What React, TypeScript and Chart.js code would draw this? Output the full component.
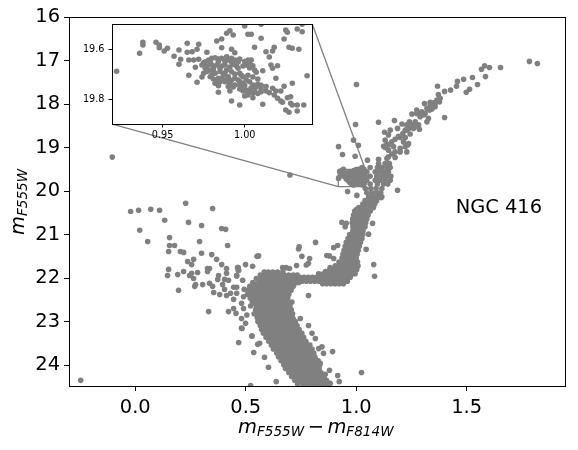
import React, { useEffect, useRef } from "react";
import { Chart, registerables } from "chart.js";

Chart.register(...registerables);

type P = [number, number];
type Row = [number, number[]];

// [colour, magnitude] values
const insetStars: P[] = [
  [.922,19.689],[.936,19.617],[.938,19.573],[.938,19.584],[.946,19.573],[.948,19.584],[.948,19.595],[.953,19.597],[.951,19.608],[.957,19.629],
  [.960,19.604],[.965,19.577],[.965,19.613],[.968,19.611],[.971,19.601],[.972,19.581],[.961,19.641],[.960,19.661],[.966,19.644],[.969,19.644],
  [.972,19.641],[.977,19.613],[.966,19.705],[.970,19.673],[.971,19.733],[.974,19.712],[.983,19.568],[.986,19.560],[.986,19.595],[.989,19.537],
  [.991,19.527],[.993,19.544],[.992,19.601],[.994,19.615],[1.000,19.508],[1.002,19.541],[1.004,19.541],[1.010,19.557],[1.006,19.593],[1.010,19.501],
  [1.013,19.611],[1.017,19.608],[1.018,19.593],[1.015,19.632],[1.024,19.560],[1.025,19.524],[1.026,19.533],[1.032,19.520],[1.035,19.531],[1.035,19.501],
  [1.027,19.593],[1.029,19.597],[1.033,19.601],[1.016,19.664],[1.020,19.667],[1.017,19.677],[1.011,19.687],[1.019,19.717],[1.038,19.707],[1.029,19.737],
  [1.024,19.749],[1.017,19.757],[1.019,19.768],[1.022,19.768],[1.018,19.784],[1.020,19.797],[1.022,19.808],[1.023,19.813],[1.028,19.791],[1.026,19.795],
  [1.028,19.817],[1.029,19.824],[1.032,19.824],[1.036,19.824],[1.025,19.844],[1.027,19.853],[1.032,19.848],[1.011,19.821],[.997,19.824],[.992,19.808],
  [.984,19.773],[.991,19.768],[1.013,19.768],[1.010,19.760],[1.010,19.771],
  [.974,19.664],[.976,19.651],[.978,19.644],[.980,19.637],[.982,19.635],[.984,19.640],[.986,19.637],[.989,19.631],[.990,19.644],[.992,19.637],
  [.994,19.644],[.997,19.640],[1.002,19.644],[1.004,19.644],[1.005,19.667],[1.001,19.664],[1.006,19.684],[1.007,19.693],[.976,19.677],[.978,19.684],
  [.980,19.664],[.983,19.664],[.985,19.677],[.988,19.664],[.989,19.684],[.993,19.661],[.996,19.677],[.997,19.697],[.975,19.697],[.979,19.711],
  [.982,19.697],[.984,19.717],[.987,19.704],[.990,19.711],[.992,19.691],[.999,19.711],[1.001,19.724],[.982,19.737],[.985,19.731],[.988,19.731],
  [.991,19.737],[.994,19.744],[.997,19.744],[.999,19.737],[1.003,19.731],[1.005,19.744],[1.007,19.751],[1.001,19.764],[1.003,19.764],[1.005,19.777],
  [1.002,19.784],[1.000,19.788],[1.005,19.795],[.994,19.717],[.996,19.724],[.981,19.720],[.984,19.747],[.999,19.768],
  [.975,19.655],[.979,19.652],[.984,19.650],[.988,19.650],[.992,19.652],[.996,19.652],[1.000,19.650],[1.003,19.655],[.977,19.668],[.981,19.675],
  [.986,19.668],[.991,19.672],[.995,19.668],[.999,19.668],[1.003,19.676],[.977,19.690],[.981,19.688],[.985,19.690],[.988,19.695],[.994,19.700],
  [.998,19.705],[1.002,19.705],[1.005,19.712],[1.008,19.720],[.980,19.702],[.983,19.727],[.986,19.720],[.989,19.722],[.992,19.725],[.997,19.730],
  [1.000,19.745],[1.004,19.755],[1.008,19.740],[1.010,19.745],[.993,19.752],[.998,19.756],[1.006,19.765],[1.008,19.778],[1.002,19.775],[.997,19.760],
  [.990,19.750],[1.013,19.750],[1.015,19.775],
];

const upperGiants: P[] = [
  [1.784,17.02],[1.820,17.07],[1.653,17.16],[1.603,17.16],[1.581,17.12],[1.567,17.20],[1.585,17.37],[1.549,17.55],[1.526,17.39],[1.486,17.43],
  [1.458,17.48],[1.454,17.59],[1.513,17.66],[1.498,17.73],[1.427,17.68],[1.400,17.71],[1.368,17.59],[1.372,17.78],[1.001,17.55],[1.380,17.87],
  [1.377,17.95],[1.365,17.91],[1.350,17.97],[1.335,17.96],[1.309,17.99],[1.357,18.06],[1.342,18.12],[1.320,18.10],[1.332,18.14],[1.274,18.14],
  [1.289,18.22],[1.252,18.23],[1.305,18.25],[1.327,18.33],[1.320,18.41],[1.400,18.31],[1.173,18.38],[1.101,18.42],[.997,18.47],[1.241,18.41],
  [1.267,18.41],[1.229,18.48],[1.207,18.46],[1.187,18.56],[1.282,18.48],[1.286,18.58],[1.259,18.56],[1.237,18.56],[1.222,18.60],[1.244,18.69],
  [1.154,18.60],[1.128,18.65],[1.146,18.71],[1.199,18.77],[1.131,18.83],[1.214,18.87],[1.237,18.91],[1.222,18.98],[.988,18.83],[1.010,18.95],
  [.920,18.98],[.938,19.16],[.995,19.20],[1.124,18.97],[1.146,18.94],[1.169,18.98],[1.146,19.06],[1.199,19.10],[1.229,19.10],[1.176,19.23],
  [1.161,19.15],[1.139,19.25],[1.101,19.27],[1.051,19.29],[1.335,18.02],[1.357,17.99],[1.297,18.18],[1.312,18.22],[1.274,18.22],[1.289,18.29],
  [1.252,18.48],[1.267,18.51],[1.229,18.60],[1.211,18.68],[1.191,18.74],[1.176,18.81],[1.161,18.87],[1.139,18.92],[1.131,19.00],[1.222,18.77],
  [1.232,18.94],[1.199,19.02],[1.176,19.10],[1.146,19.21],[1.150,19.37],
];

const clumpRows: Row[] = [
  [19.37,[1.101,1.131,1.146]],
  [19.46,[1.026,1.063,1.096,1.116,1.139,1.154]],
  [19.56,[1.048,1.086,1.105,1.127,1.146]],
  [19.66,[1.041,1.063,1.093,1.116,1.136,1.157]],
  [19.75,[1.048,1.086,1.108,1.131,1.154]],
  [19.84,[1.033,1.063,1.096,1.124,1.143]],
  [19.94,[1.041,1.066,1.090,1.116]],
  [20.04,[1.048,1.071,1.093,1.111]],
  [20.13,[1.056,1.078,1.101,1.116]],
];

const clumpExtras: P[] = [
  [.925,19.55],[.935,19.60],[.942,19.50],[.920,19.71],[.961,20.01],[1.003,20.10],[1.187,19.98],[.935,19.53],[.950,19.62],[.944,19.66],[.954,19.72],[.963,19.75],[.970,19.80],[.978,19.83],[.988,19.86],
];

const giantRows: Row[] = [
  [20.22,[1.040,1.060,1.078,1.092]],
  [20.30,[1.030,1.048,1.066,1.084]],
  [20.38,[1.012,1.030,1.048,1.066,1.078]],
  [20.46,[.993,1.010,1.028,1.046,1.064]],
  [20.55,[.988,1.004,1.020,1.037,1.054]],
  [20.64,[.984,.999,1.015,1.031,1.048]],
  [20.73,[.982,.996,1.012,1.028,1.043]],
  [20.82,[.985,.999,1.014,1.030,1.040]],
  [20.91,[.985,1.000,1.015,1.031]],
  [21.00,[.970,.986,1.002,1.018,1.030]],
  [21.09,[.963,.979,.995,1.011,1.026]],
  [21.18,[.955,.971,.987,1.003,1.019]],
  [21.27,[.950,.966,.982,.998,1.014]],
  [21.36,[.945,.961,.977,.993,1.009]],
  [21.45,[.940,.956,.972,.988,1.004]],
  [21.54,[.936,.952,.968,.984,1.000]],
  [21.63,[.922,.940,.958,.976,.994,1.006]],
  [21.72,[.905,.923,.941,.959,.977,.995,1.008]],
  [21.81,[.880,.898,.916,.934,.952,.970,.988,1.002]],
  [21.90,[.830,.851,.870,.889,.908,.927,.946,.965,.984,.995]],
  [21.98,[.745,.764,.783,.802,.821,.840,.859,.878,.897,.916,.935,.954,.973]],
  [22.07,[.755,.774,.793,.812,.831,.850,.869,.888,.907,.926,.945,.960]],
  [22.13,[.848,.866,.885,.904,.923,.942]],
];

const giantFillRows: Row[] = [
  [20.42,[1.002,1.020,1.038,1.056]],
  [20.60,[.994,1.010,1.026,1.042]],
  [20.78,[.992,1.007,1.022,1.036]],
  [20.96,[.985,.998,1.012,1.026]],
  [21.14,[.970,.985,1.000,1.015]],
  [21.32,[.958,.972,.988,1.003]],
  [21.50,[.946,.962,.978,.994]],
  [21.68,[.930,.950,.967,.985,1.000]],
  [21.86,[.870,.890,.910,.930,.950,.970,.985]],
  [22.03,[.770,.790,.810,.830,.850,.870,.890,.910,.930,.950]],
];

const mainSequenceRows: Row[] = [
  [21.86,[.584,.602,.622,.644,.668]],
  [21.93,[.566,.590,.610,.632,.651,.673,.694,.715,.733]],
  [22.01,[.548,.575,.596,.616,.637,.658,.680,.700,.722,.745]],
  [22.10,[.532,.560,.582,.603,.622,.645,.665,.687,.708,.728,.740]],
  [22.19,[.518,.548,.569,.590,.610,.632,.653,.674,.695,.715]],
  [22.28,[.512,.541,.562,.582,.603,.624,.645,.666,.687,.705]],
  [22.37,[.508,.538,.559,.580,.601,.621,.642,.663,.684,.695]],
  [22.46,[.520,.544,.565,.586,.607,.628,.649,.670,.690]],
  [22.55,[.530,.550,.571,.592,.612,.633,.654,.675,.692]],
  [22.64,[.522,.554,.575,.596,.617,.638,.659,.680,.700]],
  [22.73,[.545,.562,.583,.604,.625,.646,.667,.688,.706]],
  [22.82,[.538,.567,.588,.609,.630,.651,.672,.692,.712]],
  [22.91,[.552,.572,.593,.614,.635,.656,.677,.698,.712]],
  [23.00,[.555,.582,.603,.624,.645,.666,.687,.708,.725]],
  [23.09,[.566,.590,.611,.632,.653,.674,.695,.716,.732]],
  [23.18,[.572,.598,.619,.640,.661,.682,.703,.724,.742]],
  [23.27,[.580,.607,.628,.649,.670,.691,.712,.733,.754]],
  [23.36,[.592,.619,.640,.661,.682,.703,.724,.745,.762]],
  [23.45,[.604,.632,.653,.674,.695,.716,.737,.758,.772]],
  [23.54,[.616,.646,.667,.688,.709,.730,.751,.772,.790]],
  [23.63,[.625,.654,.675,.696,.717,.738,.759,.780,.800]],
  [23.72,[.640,.664,.685,.706,.727,.748,.769,.790,.808]],
  [23.81,[.648,.674,.695,.716,.737,.758,.779,.800,.812]],
  [23.90,[.660,.687,.708,.729,.750,.771,.792,.813,.828]],
  [23.99,[.672,.697,.718,.739,.760,.781,.802,.823,.835]],
  [24.08,[.680,.710,.731,.752,.773,.794,.815,.832]],
  [24.17,[.695,.720,.741,.762,.783,.804,.825,.840]],
  [24.26,[.708,.737,.758,.779,.800,.821,.842,.852]],
  [24.35,[.722,.750,.771,.792,.813,.834,.855,.865]],
  [24.44,[.735,.760,.781,.802,.823,.844,.865,.878]],
];

const mainSequenceFillRows: Row[] = [
  [21.97,[.585,.606,.627,.648,.669,.690,.711]],
  [22.05,[.565,.586,.607,.628,.649,.670,.691,.712,.733]],
  [22.14,[.545,.571,.592,.613,.634,.655,.676,.697,.718]],
  [22.23,[.530,.555,.576,.597,.618,.639,.660,.681,.700]],
  [22.32,[.525,.550,.571,.592,.613,.634,.655,.676,.692]],
  [22.41,[.526,.551,.572,.593,.614,.635,.656,.677]],
  [22.50,[.535,.555,.576,.597,.618,.639,.660,.681]],
  [22.59,[.540,.562,.583,.604,.625,.646,.667,.688]],
  [22.68,[.549,.569,.590,.611,.632,.653,.674,.695]],
  [22.77,[.552,.575,.596,.617,.638,.659,.680,.700]],
  [22.86,[.560,.580,.601,.622,.643,.664,.685,.704]],
  [22.95,[.565,.590,.611,.632,.653,.674,.695,.715]],
  [23.04,[.573,.600,.621,.642,.663,.684,.705,.722]],
  [23.13,[.580,.605,.626,.647,.668,.689,.710,.730]],
  [23.22,[.590,.612,.633,.654,.675,.696,.717,.738]],
  [23.31,[.600,.623,.644,.665,.686,.707,.728,.748]],
  [23.40,[.610,.635,.656,.677,.698,.719,.740,.758]],
  [23.49,[.622,.648,.669,.690,.711,.732,.753,.772]],
  [23.58,[.635,.658,.679,.700,.721,.742,.763,.785]],
  [23.67,[.645,.668,.689,.710,.731,.752,.773,.794]],
  [23.76,[.655,.678,.699,.720,.741,.762,.783,.803]],
  [23.85,[.668,.690,.711,.732,.753,.774,.795,.815]],
  [23.94,[.680,.702,.723,.744,.765,.786,.807,.826]],
  [24.03,[.690,.712,.733,.754,.775,.796,.817,.830]],
  [24.12,[.702,.725,.746,.767,.788,.809,.830]],
  [24.21,[.715,.738,.759,.780,.801,.822,.845]],
  [24.30,[.730,.752,.773,.794,.815,.836,.855]],
  [24.39,[.742,.765,.786,.807,.828,.849,.868]],
];

const scatteredStars: P[] = [
  [-.247,24.35],[.522,24.47],[-.021,20.47],[.015,20.44],[.070,20.42],[.110,20.44],[.228,20.28],[.350,20.40],[.133,20.67],[.241,20.72],
  [.300,20.79],[.391,20.86],[.409,20.88],[.020,20.90],[.056,21.16],[.155,21.07],[.291,21.16],[.418,21.25],[.155,21.25],[.178,21.25],
  [.151,21.39],[.204,21.39],[.219,21.41],[.300,21.43],[.346,21.46],[.368,21.57],[.264,21.57],[.237,21.62],[.255,21.69],[.391,21.69],
  [.499,21.69],[.531,21.73],[.551,21.50],[.413,21.78],[.463,21.76],[.468,21.82],[.151,21.80],[.219,21.85],[.327,21.78],[.336,21.78],
  [.327,21.85],[.282,21.87],[.413,21.89],[.146,21.94],[.192,21.92],[.246,21.94],[.255,21.89],[.264,22.01],[.377,21.94],[.373,22.03],
  [.459,21.94],[.404,22.03],[.422,22.05],[.486,22.05],[.395,22.15],[.336,22.12],[.350,22.19],[.305,22.15],[.269,22.19],[.273,22.15],
  [.196,22.28],[.355,22.33],[.382,22.38],[.404,22.26],[.413,22.40],[.431,22.35],[.445,22.21],[.459,22.21],[.459,22.35],[.445,22.49],
  [.493,22.26],[.332,22.77],[.422,22.77],[.445,22.70],[.456,22.81],[.481,22.58],[.481,22.93],[.481,23.15],[.499,23.04],[.528,23.33],
  [.468,23.48],[.536,23.71],[.554,23.52],[.490,22.70],[.505,22.85],[.490,22.43],
  [.816,21.18],[.742,21.28],[.739,21.33],[.558,21.49],[.754,21.50],[.789,21.55],[.784,21.66],[.774,21.70],[.466,21.76],[.466,21.83],
  [.459,21.95],[.667,21.76],[.683,21.76],[.698,21.78],[.730,21.71],[.867,21.48],[.879,21.49],[.898,21.30],[.916,21.25],[.898,21.55],
  [.882,21.76],[.861,21.85],[.935,20.72],[.955,20.74],[.950,20.82],[1.113,20.15],[1.074,20.74],[1.056,20.99],[1.045,21.34],[1.079,21.69],
  [1.083,21.96],[.784,22.40],[.747,22.93],[.784,23.09],[.800,23.27],[.815,23.39],[.585,23.82],[.603,24.05],[.845,23.58],[.830,23.62],
  [.852,23.73],[.893,23.69],[.837,23.96],[.879,24.12],[.860,24.21],[.916,24.24],[.923,24.38],[1.024,24.17],[.882,24.42],[.638,24.38],
  [.483,23.16],[.528,23.33],[.709,22.55],[.563,23.50],[.700,19.63],[-.104,19.22],
];

const xTickValues = [0, 0.5, 1, 1.5];
const yTickValues = [16, 17, 18, 19, 20, 21, 22, 23, 24];
const insetXTickValues = [0.95, 1.0];
const insetYTickValues = [19.6, 19.8];
const clusterName = "NGC 416";
const clusterNameAt: P = [1.45, 20.39];

// Zoom rectangle and the two connector lines, in data values
const insetRange = { xMin: 0.9192, xMax: 1.041, yMin: 19.5, yMax: 19.9 };
const mainRange = { xMin: -0.3, xMax: 1.945, yMin: 16, yMax: 24.48 };
const connectorLow: P[] = [[-0.104, 18.46], [0.9192, 19.9]];
const connectorHigh: P[] = [[0.801, 16.16], [1.041, 19.5]];

const GREY = "#808080";
const FONT = '"DejaVu Sans"';
const BIG = 19.44;
const SUB = 13.6;

const fromRows = (rows: Row[]) => rows.flatMap(([m, xs]) => xs.map((x) => ({ x, y: m })));
const fromPairs = (ps: P[]) => ps.map(([x, y]) => ({ x, y }));

const stars = [
  ...fromRows(mainSequenceRows),
  ...fromRows(mainSequenceFillRows),
  ...fromRows(giantRows),
  ...fromRows(giantFillRows),
  ...fromRows(clumpRows),
  ...fromPairs(clumpExtras),
  ...fromPairs(upperGiants),
  ...fromPairs(scatteredStars),
  ...fromPairs(insetStars),
];

const pointStyle = { backgroundColor: GREY, borderWidth: 0, pointRadius: 2.8, pointHoverRadius: 2.8, showLine: false };
const lineStyle = { borderColor: GREY, borderWidth: 1.3, pointRadius: 0, showLine: true, fill: false, tension: 0, clip: false as any };

type Part = [string, boolean, number, number, number];

function axisLabel(ctx: CanvasRenderingContext2D, parts: Part[], x: number, y: number) {
  let cx = x;
  ctx.textAlign = "left";
  ctx.textBaseline = "alphabetic";
  for (const [s, italic, size, dy, gap] of parts) {
    ctx.font = `${italic ? "italic " : ""}${size}px ${FONT}`;
    cx += gap;
    ctx.fillText(s, cx, y + dy);
    cx += ctx.measureText(s).width + gap;
  }
}

const framePlugin = {
  id: "frame",
  afterDatasetsDraw(c: any) {
    const { ctx, chartArea: a } = c;
    ctx.save();
    ctx.strokeStyle = "#000";
    ctx.lineWidth = 1;
    ctx.strokeRect(Math.round(a.left) + 0.5, Math.round(a.top) + 0.5, Math.round(a.right - a.left), Math.round(a.bottom - a.top));
    ctx.restore();
  },
};

const annotationPlugin = {
  id: "annotations",
  afterDraw(c: any) {
    const { ctx, scales } = c;
    ctx.save();
    ctx.fillStyle = "#000";
    ctx.font = `${BIG}px ${FONT}`;
    ctx.textAlign = "left";
    ctx.textBaseline = "middle";
    ctx.fillText(clusterName, scales.x.getPixelForValue(clusterNameAt[0]), scales.y.getPixelForValue(clusterNameAt[1]));

    const xParts: Part[] = [
      ["m", true, BIG, 0, 0], ["F555W", true, SUB, 3, 0], ["−", false, BIG, 0, 3.5], ["m", true, BIG, 0, 0], ["F814W", true, SUB, 3, 0],
    ];
    axisLabel(ctx, xParts, 238, 433);

    ctx.translate(24, 235);
    ctx.rotate(-Math.PI / 2);
    axisLabel(ctx, [["m", true, BIG, 0, 0], ["F555W", true, SUB, 3, 0]], 0, 0);
    ctx.restore();
  },
};

const insetBackground = {
  id: "insetBackground",
  beforeDraw(c: any) {
    const { ctx, chartArea: a } = c;
    ctx.save();
    ctx.fillStyle = "#fff";
    ctx.fillRect(a.left, a.top, a.right - a.left, a.bottom - a.top);
    ctx.restore();
  },
};

function axis(min: number, max: number, values: number[], digits: number, size: number, tick: number, pad: number, fit: (s: any) => void, reverse = false) {
  return {
    type: "linear",
    min,
    max,
    reverse,
    afterFit: fit,
    afterBuildTicks: (s: any) => {
      s.ticks = values.map((value) => ({ value }));
    },
    grid: { drawOnChartArea: false, drawTicks: true, tickLength: tick, tickColor: "#000", tickWidth: 1 },
    border: { display: true, color: "#000", width: 1 },
    ticks: {
      includeBounds: false,
      autoSkip: false,
      maxRotation: 0,
      minRotation: 0,
      padding: pad,
      color: "#000",
      font: { family: FONT, size },
      callback: (v: any) => Number(v).toFixed(digits),
    },
  };
}

export default function App() {
  const mainRef = useRef<HTMLCanvasElement>(null);
  const insetRef = useRef<HTMLCanvasElement>(null);

  useEffect(() => {
    document.body.style.margin = "0";
    const box: P[] = [
      [insetRange.xMin, insetRange.yMin], [insetRange.xMax, insetRange.yMin],
      [insetRange.xMax, insetRange.yMax], [insetRange.xMin, insetRange.yMax], [insetRange.xMin, insetRange.yMin],
    ];
    const main = new Chart(mainRef.current!, {
      type: "scatter",
      data: {
        datasets: [
          { data: stars, ...pointStyle },
          { data: fromPairs(box), ...lineStyle },
          { data: fromPairs(connectorLow), ...lineStyle },
          { data: fromPairs(connectorHigh), ...lineStyle },
        ] as any,
      },
      options: {
        animation: false,
        responsive: false,
        devicePixelRatio: 1,
        layout: { padding: { left: 0, right: 13, top: 17, bottom: 0 } },
        plugins: { legend: { display: false }, tooltip: { enabled: false }, title: { display: false } },
        scales: {
          x: axis(mainRange.xMin, mainRange.xMax, xTickValues, 1, BIG, 5, 5, (s) => { s.height = 64; }),
          y: axis(mainRange.yMin, mainRange.yMax, yTickValues, 0, BIG, 5, 4, (s) => { s.width = 69; }, true),
        } as any,
      },
      plugins: [framePlugin, annotationPlugin],
    });
    const inset = new Chart(insetRef.current!, {
      type: "scatter",
      data: { datasets: [{ data: fromPairs(insetStars), ...pointStyle }] as any },
      options: {
        animation: false,
        responsive: false,
        devicePixelRatio: 1,
        layout: { padding: { left: 0, right: 8, top: 16, bottom: 0 } },
        plugins: { legend: { display: false }, tooltip: { enabled: false }, title: { display: false } },
        scales: {
          x: axis(insetRange.xMin, insetRange.xMax, insetXTickValues, 2, 9.7, 3.5, 2, (s) => { s.height = 21; }),
          y: axis(insetRange.yMin, insetRange.yMax, insetYTickValues, 1, 9.7, 3.5, 4, (s) => { s.width = 42; }, true),
        } as any,
      },
      plugins: [insetBackground, framePlugin],
    });
    return () => {
      main.destroy();
      inset.destroy();
    };
  }, []);

  return (
    <div style={{ position: "absolute", left: 0, top: 0, width: 578, height: 450, background: "#fff", overflow: "hidden" }}>
      <canvas ref={mainRef} width={578} height={450} style={{ position: "absolute", left: 0, top: 0 }} />
      <canvas ref={insetRef} width={250} height={137} style={{ position: "absolute", left: 70, top: 8 }} />
    </div>
  );
}
